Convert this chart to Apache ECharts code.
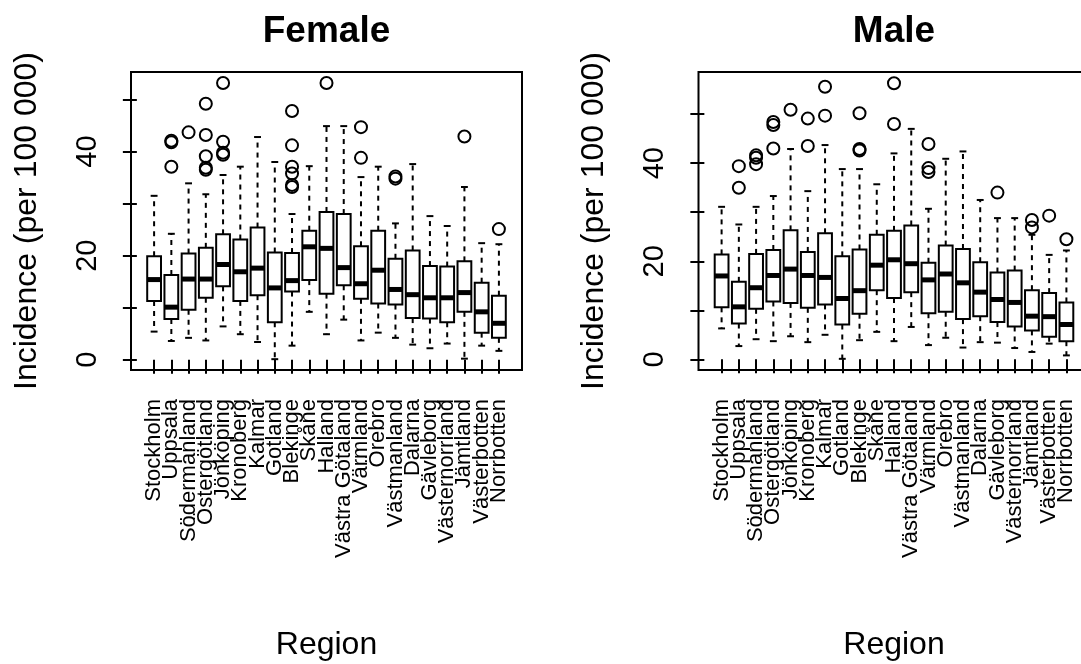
<!DOCTYPE html>
<html>
<head>
<meta charset="utf-8">
<script src="https://cdn.jsdelivr.net/npm/echarts@6/dist/echarts.min.js"></script>
<style>
  html, body { margin: 0; padding: 0; background: #fff; }
  #chart { width: 1081px; height: 664px; }
</style>
</head>
<body>
<div id="chart"></div>
<script>
// regions in plotting order
var regions = ['Stockholm', 'Uppsala', 'Södermanland', 'Östergötland', 'Jönköping', 'Kronoberg',
  'Kalmar', 'Gotland', 'Blekinge', 'Skåne', 'Halland', 'Västra Götaland', 'Värmland', 'Örebro',
  'Västmanland', 'Dalarna', 'Gävleborg', 'Västernorrland', 'Jämtland', 'Västerbotten', 'Norrbotten'];

// [lower whisker, Q1, median, Q3, upper whisker]
var femaleBox = [
  [5.4, 11.3, 15.4, 19.9, 31.5], [3.6, 7.8, 10.1, 16.3, 24.2], [4.2, 9.6, 15.5, 20.4, 33.9],
  [3.7, 11.9, 15.5, 21.5, 31.8], [6.4, 14.1, 18.3, 24.1, 35.5], [4.9, 11.3, 16.9, 23.1, 37.1],
  [3.4, 12.4, 17.6, 25.4, 42.8], [0.1, 7.2, 13.8, 20.6, 38.0], [2.7, 13.1, 15.2, 20.5, 28.0],
  [9.2, 15.3, 21.7, 24.8, 37.2], [4.9, 12.7, 21.4, 28.4, 44.9], [7.7, 14.3, 17.7, 28.0, 44.9],
  [3.7, 11.7, 14.6, 21.8, 35.1], [5.2, 10.8, 17.2, 24.8, 37.1], [4.2, 10.6, 13.5, 19.4, 26.2],
  [2.9, 8.0, 12.5, 21.0, 37.6], [2.2, 7.9, 11.9, 18.0, 27.6], [3.1, 7.2, 11.9, 17.9, 25.7],
  [0.2, 9.2, 12.9, 18.9, 33.2], [2.7, 5.2, 9.2, 14.8, 22.4], [1.7, 4.2, 7.0, 12.3, 22.2]
];
// [region number, value]
var femaleOut = [
  [2, 42.1], [2, 41.8], [2, 37.1], [3, 43.7],
  [4, 49.2], [4, 43.2], [4, 39.1], [4, 36.9], [4, 36.5],
  [5, 53.2], [5, 41.9], [5, 39.8], [5, 39.4],
  [9, 47.8], [9, 41.2], [9, 37.1], [9, 35.8], [9, 33.6], [9, 33.2],
  [11, 53.2], [13, 44.7], [13, 38.8], [15, 35.2], [15, 34.8], [19, 42.9], [21, 25.1]
];

var maleBox = [
  [6.3, 10.6, 17.0, 21.4, 31.1], [2.7, 7.3, 10.7, 15.8, 27.5], [4.1, 10.3, 14.6, 21.5, 31.1],
  [3.7, 11.8, 17.1, 22.3, 33.3], [4.7, 11.5, 18.4, 26.3, 42.9], [3.5, 10.5, 17.1, 21.9, 34.3],
  [5.0, 11.2, 16.7, 25.7, 43.7], [0.1, 7.1, 12.4, 21.0, 38.8], [3.9, 9.3, 14.0, 22.4, 38.8],
  [5.6, 14.1, 19.2, 25.4, 35.7], [3.7, 12.5, 20.3, 26.2, 42.0], [6.6, 13.7, 19.5, 27.3, 47.0],
  [2.9, 9.4, 16.2, 19.7, 30.7], [4.4, 9.7, 17.4, 23.2, 40.9], [2.4, 8.2, 15.6, 22.5, 42.4],
  [3.5, 8.8, 13.7, 19.8, 32.5], [3.4, 7.6, 12.2, 17.7, 28.8], [2.3, 6.7, 11.6, 18.1, 28.8],
  [1.5, 5.9, 8.8, 14.1, 25.4], [3.2, 4.6, 8.7, 13.5, 21.3], [0.8, 3.7, 7.1, 11.6, 22.2]
];
var maleOut = [
  [2, 39.4], [2, 35.0], [3, 41.6], [3, 41.1], [3, 39.8],
  [4, 48.4], [4, 47.8], [4, 43.0], [5, 50.9], [6, 49.1], [6, 43.5],
  [7, 55.6], [7, 49.7], [9, 50.2], [9, 42.9], [9, 42.6],
  [11, 56.3], [11, 48.0], [13, 43.9], [13, 39.0], [13, 38.2],
  [17, 34.0], [19, 28.4], [19, 26.9], [20, 29.3], [21, 24.5]
];

var yTicks = [0, 10, 20, 30, 40, 50];
var yLabels = [0, 20, 40];
var regionTicks = regions.map(function (r, i) { return i + 1; });
// blank end slots so the min/max overlap check does not hide real names
var regionLabelPos = [0].concat(regionTicks, [22]);

var FONT = "'Liberation Sans', Arial, sans-serif";

function boxData(arr) {
  return arr.map(function (b, i) { return [i + 1].concat(b); });
}

// R style box: dashed whiskers, short staples, thick median
function renderBox(params, api) {
  var x = api.value(0);
  var lo = api.coord([x, api.value(1)]);
  var q1 = api.coord([x - 0.4, api.value(2)]);
  var med = api.coord([x, api.value(3)]);
  var q3 = api.coord([x + 0.4, api.value(4)]);
  var hi = api.coord([x, api.value(5)]);
  var stL = api.coord([x - 0.2, 0])[0];
  var stR = api.coord([x + 0.2, 0])[0];
  var cx = lo[0];
  var dash = { stroke: '#000', lineWidth: 2, lineDash: [5, 5] };
  var solid = { stroke: '#000', lineWidth: 2 };
  return {
    type: 'group',
    children: [
      { type: 'line', shape: { x1: cx, y1: q3[1], x2: cx, y2: hi[1] }, style: dash },
      { type: 'line', shape: { x1: cx, y1: q1[1], x2: cx, y2: lo[1] }, style: dash },
      { type: 'line', shape: { x1: stL, y1: hi[1], x2: stR, y2: hi[1] }, style: solid },
      { type: 'line', shape: { x1: stL, y1: lo[1], x2: stR, y2: lo[1] }, style: solid },
      { type: 'rect', shape: { x: q1[0], y: q3[1], width: q3[0] - q1[0], height: q1[1] - q3[1] },
        style: { fill: '#fff', stroke: '#000', lineWidth: 2 } },
      { type: 'line', shape: { x1: q1[0], y1: med[1], x2: q3[0], y2: med[1] },
        style: { stroke: '#000', lineWidth: 5 } }
    ]
  };
}

function xAxisOpt(idx) {
  return {
    type: 'value', gridIndex: idx, min: -0.34, max: 22.34,
    name: 'Region', nameLocation: 'middle', nameGap: 259, nameMoveOverlap: false,
    nameTextStyle: { fontSize: 32, fontFamily: FONT, color: '#000' },
    splitLine: { show: false }, axisLine: { show: false },
    axisTick: { show: true, inside: false, length: 14, customValues: regionTicks,
      lineStyle: { color: '#000', width: 2 } },
    axisLabel: { show: true, rotate: 90, margin: 29, fontSize: 22, fontFamily: FONT, color: '#000',
      customValues: regionLabelPos, hideOverlap: false,
      formatter: function (v) { return regions[v - 1] || ''; } }
  };
}

function yAxisOpt(idx, min, max) {
  return {
    type: 'value', gridIndex: idx, min: min, max: max,
    name: 'Incidence (per 100 000)', nameLocation: 'middle', nameGap: 88, nameRotate: 90,
    nameMoveOverlap: false,
    nameTextStyle: { fontSize: 32, fontFamily: FONT, color: '#000' },
    splitLine: { show: false }, axisLine: { show: false },
    axisTick: { show: true, inside: false, length: 14, customValues: yTicks,
      lineStyle: { color: '#000', width: 2 } },
    axisLabel: { show: true, rotate: 90, margin: 29, fontSize: 29, fontFamily: FONT, color: '#000',
      customValues: yLabels, showMinLabel: true, showMaxLabel: true }
  };
}

var outlierStyle = { color: 'transparent', borderColor: '#000', borderWidth: 2, opacity: 1 };

var chart = echarts.init(document.getElementById('chart'), null, { renderer: 'canvas' });

chart.setOption({
  animation: false,
  backgroundColor: '#fff',
  grid: [
    { left: 131, right: 559, top: 72, bottom: 294, show: true, borderColor: '#000', borderWidth: 2,
      backgroundColor: 'transparent', containLabel: false, outerBoundsMode: 'none' },
    { left: 698.5, right: -8.5, top: 72, bottom: 294, show: true, borderColor: '#000', borderWidth: 2,
      backgroundColor: 'transparent', containLabel: false, outerBoundsMode: 'none' }
  ],
  xAxis: [xAxisOpt(0), xAxisOpt(1)],
  yAxis: [yAxisOpt(0, -1.98, 55.3), yAxisOpt(1, -2.18, 58.6)],
  graphic: [
    { type: 'text', x: 326.5, y: 32, style: { text: 'Female', align: 'center', verticalAlign: 'middle',
      fontSize: 37, fontWeight: 'bold', fontFamily: FONT, fill: '#000' } },
    { type: 'text', x: 894, y: 32, style: { text: 'Male', align: 'center', verticalAlign: 'middle',
      fontSize: 37, fontWeight: 'bold', fontFamily: FONT, fill: '#000' } }
  ],
  series: [
    { type: 'custom', name: 'Female', xAxisIndex: 0, yAxisIndex: 0, data: boxData(femaleBox),
      encode: { x: 0, y: [1, 2, 3, 4, 5] }, renderItem: renderBox },
    { type: 'scatter', xAxisIndex: 0, yAxisIndex: 0, data: femaleOut, symbol: 'circle', symbolSize: 12,
      itemStyle: outlierStyle },
    { type: 'custom', name: 'Male', xAxisIndex: 1, yAxisIndex: 1, data: boxData(maleBox),
      encode: { x: 0, y: [1, 2, 3, 4, 5] }, renderItem: renderBox },
    { type: 'scatter', xAxisIndex: 1, yAxisIndex: 1, data: maleOut, symbol: 'circle', symbolSize: 12,
      itemStyle: outlierStyle }
  ]
});
</script>
</body>
</html>
